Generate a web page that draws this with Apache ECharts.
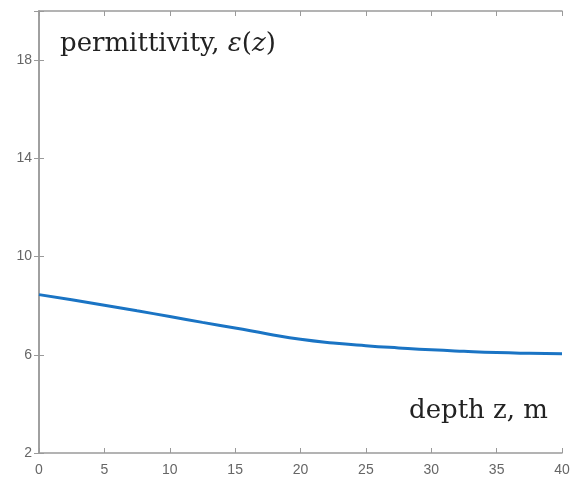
<!DOCTYPE html>
<html>
<head>
<meta charset="utf-8">
<script src="https://cdn.jsdelivr.net/npm/echarts@6/dist/echarts.min.js"></script>
<style>
  html, body { margin: 0; padding: 0; background: #fff; }
  #chart { width: 574px; height: 482px; }
</style>
</head>
<body>
<div id="chart"></div>
<script>
// depth z (m) and permittivity
const depth = [0, 2.5, 5, 7.5, 10, 12.5, 15, 17.5, 20, 22.5, 25, 27.5, 30, 32.5, 35, 37.5, 40]
const permittivity = [8.45, 8.24, 8.02, 7.79, 7.56, 7.32, 7.09, 6.85, 6.63, 6.48, 6.37, 6.28, 6.2, 6.14, 6.09, 6.06, 6.04]
const yTicks = [2, 6, 10, 14, 18]

const chart = echarts.init(document.getElementById("chart"))

const axisGray = "#9a9a9a"
const labelGray = "#666"

const option = {
  animation: false,
  backgroundColor: "#fff",
  grid: { left: 39, right: 12, top: 11, bottom: 29 },
  xAxis: [
    {
      type: "value", min: 0, max: 40, interval: 5,
      axisLine: { lineStyle: { color: axisGray, width: 1.5 } },
      axisTick: { inside: true, length: 5, lineStyle: { color: axisGray } },
      axisLabel: { color: labelGray, fontSize: 14, fontFamily: "Liberation Sans", margin: 10 },
      splitLine: { show: false },
    },
    {
      type: "value", min: 0, max: 40, interval: 5, position: "top",
      axisLine: { lineStyle: { color: axisGray, width: 1.5 } },
      axisTick: { inside: true, length: 5, lineStyle: { color: axisGray } },
      axisLabel: { show: false },
      splitLine: { show: false },
    },
  ],
  yAxis: [
    {
      type: "value", min: 2, max: 20, interval: 4,
      axisLine: { lineStyle: { color: axisGray, width: 1.5 } },
      axisTick: { inside: true, length: 5, lineStyle: { color: axisGray } },
      axisLabel: {
        color: labelGray, fontSize: 14, fontFamily: "Liberation Sans", margin: 7,
        formatter: v => (yTicks.includes(v) ? String(v) : ""),
      },
      splitLine: { show: false },
    },
    {
      type: "value", min: 2, max: 20, interval: 4, position: "right",
      axisLine: { show: true, lineStyle: { color: axisGray, width: 1.5 } },
      axisTick: { show: true, inside: true, length: 5, lineStyle: { color: axisGray } },
      axisLabel: { show: false },
      splitLine: { show: false },
    },
  ],
  series: [
    {
      type: "line",
      data: depth.map((z, i) => [z, permittivity[i]]),
      smooth: true,
      showSymbol: false,
      lineStyle: { color: "#1a74c4", width: 3 },
    },
  ],
  graphic: [
    {
      type: "text", left: 60, top: 31,
      style: {
        text: "{a|permittivity, }{b|ε}{a|(}{b|z}{a|)}",
        rich: {
          a: { fontFamily: "DejaVu Serif", fontSize: 26, fill: "#222" },
          b: { fontFamily: "DejaVu Serif", fontStyle: "italic", fontSize: 26, fill: "#222" },
        },
      },
    },
    {
      type: "text", right: 26, top: 398,
      style: { text: "depth z, m", fontFamily: "DejaVu Serif", fontSize: 26, fill: "#222" },
    },
  ],
}

chart.setOption(option)
</script>
</body>
</html>
